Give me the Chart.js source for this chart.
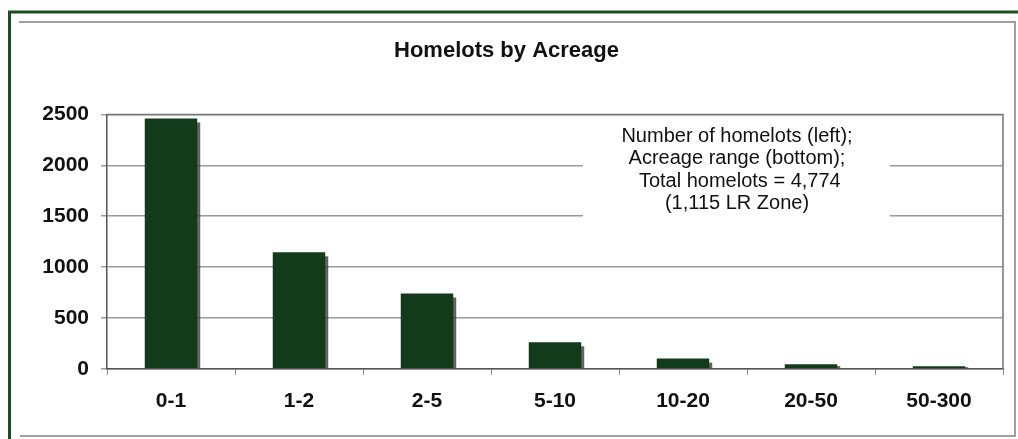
<!DOCTYPE html>
<html>
<head>
<meta charset="utf-8">
<script src="https://cdn.jsdelivr.net/npm/chart.js@4/dist/chart.umd.min.js"></script>
<style>
  html, body { margin: 0; padding: 0; background: #fff; }
  #wrap { width: 1018px; height: 439px; position: relative; }
</style>
</head>
<body>
<div id="wrap"><canvas id="myChart"></canvas></div>
<script>
const categories = ['0-1', '1-2', '2-5', '5-10', '10-20', '20-50', '50-300'];
const homelots = [2460, 1145, 740, 260, 100, 45, 24];
const yTicks = [0, 500, 1000, 1500, 2000, 2500];
const titleText = 'Homelots by Acreage';
const noteLines = ['Number of homelots (left);', 'Acreage range (bottom);', ' Total homelots = 4,774', '(1,115 LR Zone)'];

const FONT = "'Liberation Sans', Arial, sans-serif";
const BAR_COLOR = '#113b1b';

// frame lines round the picture + plot border
const framePlugin = {
  id: 'frame',
  beforeDraw(chart) {
    const c = chart.ctx;
    c.save();
    c.fillStyle = '#fff';
    c.fillRect(0, 0, chart.width, chart.height);
    // green outer frame
    c.strokeStyle = '#1d4f1d';
    c.lineWidth = 3;
    c.beginPath();
    c.moveTo(8, 12); c.lineTo(1018, 12);
    c.moveTo(9.5, 12); c.lineTo(9.5, 439);
    c.stroke();
    // grey inner frame
    c.strokeStyle = '#a0a0a0';
    c.lineWidth = 2;
    c.beginPath();
    c.moveTo(19, 22); c.lineTo(1015, 22); c.lineTo(1015, 436); c.lineTo(20, 436);
    c.stroke();
    c.restore();
  },
  beforeDatasetsDraw(chart) {
    // bar shadows
    const c = chart.ctx;
    c.save();
    c.fillStyle = 'rgba(60,60,60,0.8)';
    chart.getDatasetMeta(0).data.forEach(b => {
      const w = b.width;
      const h = b.base - b.y;
      c.fillRect(b.x - w / 2 + 3, b.y + Math.min(4, h / 2), w, h - Math.min(4, h / 2));
    });
    c.restore();
  },
  afterDatasetsDraw(chart) {
    const c = chart.ctx;
    const a = chart.chartArea;
    c.save();
    // plot border top + right
    c.strokeStyle = '#777';
    c.lineWidth = 1.5;
    c.beginPath();
    c.moveTo(a.left, a.top); c.lineTo(a.right, a.top); c.lineTo(a.right, a.bottom);
    c.stroke();
    // note box
    c.fillStyle = '#fff';
    c.fillRect(583, 119, 307, 126);
    c.fillStyle = '#111';
    c.font = '20px ' + FONT;
    c.textAlign = 'center';
    c.textBaseline = 'middle';
    noteLines.forEach((t, i) => c.fillText(t, 737, 136 + i * 22.5));
    c.restore();
  }
};

let myChart;

const setup = () => {
  const ctxt = document.getElementById('myChart').getContext('2d');
  myChart = new Chart(ctxt, {
    type: 'bar',
    data: {
      labels: categories,
      datasets: [{
        label: 'Homelots',
        data: homelots,
        backgroundColor: BAR_COLOR,
        borderWidth: 0,
        barPercentage: 0.41,
        categoryPercentage: 1
      }]
    },
    options: {
      responsive: true,
      maintainAspectRatio: false,
      animation: false,
      layout: { padding: { left: 10, right: 15, top: 0, bottom: 11 } },
      plugins: {
        legend: { display: false },
        tooltip: { enabled: false },
        title: {
          display: true,
          text: titleText,
          color: '#111',
          font: { family: FONT, size: 22, weight: 'bold', lineHeight: 1.2 },
          padding: { top: 38, bottom: 50 }
        }
      },
      scales: {
        x: {
          grid: { drawOnChartArea: false, drawTicks: true, tickLength: 6, color: '#888', offset: true },
          border: { color: '#555', width: 1.5 },
          ticks: { color: '#111', padding: 14, font: { family: FONT, size: 21, weight: 'bold' } }
        },
        y: {
          min: 0,
          max: 2500,
          afterFit: s => { s.width = 97; },
          afterBuildTicks: s => { s.ticks = yTicks.map(v => ({ value: v })); },
          grid: { color: '#9a9a9a', lineWidth: 1.5, tickLength: 6 },
          border: { color: '#555', width: 1.5 },
          ticks: {
            color: '#111',
            padding: 12,
            font: { family: FONT, size: 21, weight: 'bold' },
            callback: v => String(v)
          }
        }
      }
    },
    plugins: [framePlugin]
  });
};

window.addEventListener('DOMContentLoaded', setup);
</script>
</body>
</html>
